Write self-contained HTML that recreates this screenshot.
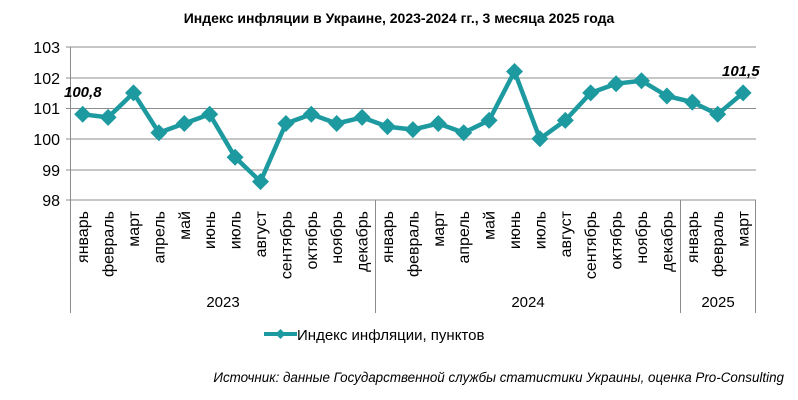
<!DOCTYPE html>
<html><head><meta charset="utf-8"><style>body{margin:0;background:#fff}svg{display:block}</style></head>
<body>
<svg width="798" height="400" xmlns="http://www.w3.org/2000/svg" xmlns:xlink="http://www.w3.org/1999/xlink" font-family="Liberation Sans, sans-serif">
<defs><path id="dm" d="M0 -8.5 L8.5 0 L0 8.5 L-8.5 0Z" fill="#1d9aa0"/></defs>
<text x="399" y="23" text-anchor="middle" font-size="14" font-weight="bold">Индекс инфляции в Украине, 2023-2024 гг., 3 месяца 2025 года</text>
<g stroke="#8c8c8c" stroke-width="1">
<line x1="66" y1="47" x2="756" y2="47"/>
<line x1="66" y1="78" x2="756" y2="78"/>
<line x1="66" y1="108.5" x2="756" y2="108.5"/>
<line x1="66" y1="139" x2="756" y2="139"/>
<line x1="66" y1="170" x2="756" y2="170"/>
<line x1="66" y1="200" x2="756" y2="200"/>
<line x1="70.5" y1="47" x2="70.5" y2="313"/>
<line x1="375.5" y1="200" x2="375.5" y2="313"/>
<line x1="680.5" y1="200" x2="680.5" y2="313"/>
<line x1="755.5" y1="200" x2="755.5" y2="313"/>
</g>
<g font-size="16" text-anchor="end">
<text x="60" y="53">103</text><text x="60" y="84">102</text><text x="60" y="114">101</text><text x="60" y="145">100</text><text x="60" y="176">99</text><text x="60" y="206">98</text>
</g>
<g font-size="16" text-anchor="end">
<text transform="translate(88.2,211) rotate(-90)">январь</text>
<text transform="translate(113.6,211) rotate(-90)">февраль</text>
<text transform="translate(139,211) rotate(-90)">март</text>
<text transform="translate(164.4,211) rotate(-90)">апрель</text>
<text transform="translate(189.8,211) rotate(-90)">май</text>
<text transform="translate(215.2,211) rotate(-90)">июнь</text>
<text transform="translate(240.6,211) rotate(-90)">июль</text>
<text transform="translate(266,211) rotate(-90)">август</text>
<text transform="translate(291.4,211) rotate(-90)">сентябрь</text>
<text transform="translate(316.8,211) rotate(-90)">октябрь</text>
<text transform="translate(342.2,211) rotate(-90)">ноябрь</text>
<text transform="translate(367.6,211) rotate(-90)">декабрь</text>
<text transform="translate(393,211) rotate(-90)">январь</text>
<text transform="translate(418.4,211) rotate(-90)">февраль</text>
<text transform="translate(443.8,211) rotate(-90)">март</text>
<text transform="translate(469.2,211) rotate(-90)">апрель</text>
<text transform="translate(494.6,211) rotate(-90)">май</text>
<text transform="translate(520,211) rotate(-90)">июнь</text>
<text transform="translate(545.4,211) rotate(-90)">июль</text>
<text transform="translate(570.8,211) rotate(-90)">август</text>
<text transform="translate(596.2,211) rotate(-90)">сентябрь</text>
<text transform="translate(621.6,211) rotate(-90)">октябрь</text>
<text transform="translate(647,211) rotate(-90)">ноябрь</text>
<text transform="translate(672.4,211) rotate(-90)">декабрь</text>
<text transform="translate(697.8,211) rotate(-90)">январь</text>
<text transform="translate(723.2,211) rotate(-90)">февраль</text>
<text transform="translate(748.6,211) rotate(-90)">март</text>
</g>
<g font-size="15" text-anchor="middle"><text x="223" y="307">2023</text><text x="528" y="307">2024</text><text x="718" y="307">2025</text></g>
<polyline fill="none" stroke="#1d9aa0" stroke-width="4.5" stroke-linejoin="round" points="82.7,114.3 108.1,117.4 133.5,92.9 158.9,132.7 184.3,123.5 209.7,114.3 235.1,157.2 260.5,181.6 285.9,123.5 311.3,114.3 336.7,123.5 362.1,117.4 387.5,126.6 412.9,129.6 438.3,123.5 463.7,132.7 489.1,120.4 514.5,71.5 539.9,138.8 565.3,120.4 590.7,92.9 616.1,83.7 641.5,80.7 666.9,96.0 692.3,102.1 717.7,114.3 743.1,92.9"/>
<use xlink:href="#dm" x="82.7" y="114.3"/><use xlink:href="#dm" x="108.1" y="117.4"/><use xlink:href="#dm" x="133.5" y="92.9"/><use xlink:href="#dm" x="158.9" y="132.7"/><use xlink:href="#dm" x="184.3" y="123.5"/><use xlink:href="#dm" x="209.7" y="114.3"/><use xlink:href="#dm" x="235.1" y="157.2"/><use xlink:href="#dm" x="260.5" y="181.6"/><use xlink:href="#dm" x="285.9" y="123.5"/><use xlink:href="#dm" x="311.3" y="114.3"/><use xlink:href="#dm" x="336.7" y="123.5"/><use xlink:href="#dm" x="362.1" y="117.4"/><use xlink:href="#dm" x="387.5" y="126.6"/><use xlink:href="#dm" x="412.9" y="129.6"/><use xlink:href="#dm" x="438.3" y="123.5"/><use xlink:href="#dm" x="463.7" y="132.7"/><use xlink:href="#dm" x="489.1" y="120.4"/><use xlink:href="#dm" x="514.5" y="71.5"/><use xlink:href="#dm" x="539.9" y="138.8"/><use xlink:href="#dm" x="565.3" y="120.4"/><use xlink:href="#dm" x="590.7" y="92.9"/><use xlink:href="#dm" x="616.1" y="83.7"/><use xlink:href="#dm" x="641.5" y="80.7"/><use xlink:href="#dm" x="666.9" y="96.0"/><use xlink:href="#dm" x="692.3" y="102.1"/><use xlink:href="#dm" x="717.7" y="114.3"/><use xlink:href="#dm" x="743.1" y="92.9"/>
<text x="64" y="97" font-size="15" font-weight="bold" font-style="italic">100,8</text>
<text x="722" y="76" font-size="15" font-weight="bold" font-style="italic">101,5</text>
<line x1="264" y1="334" x2="297" y2="334" stroke="#1d9aa0" stroke-width="4"/>
<path d="M280.5 329 L285.5 334 L280.5 339 L275.5 334Z" fill="#1d9aa0"/>
<text x="297" y="340" font-size="15">Индекс инфляции, пунктов</text>
<text x="784" y="382" font-size="13.4" font-style="italic" text-anchor="end">Источник: данные Государственной службы статистики Украины, оценка Pro-Consulting</text>
</svg>
</body></html>
